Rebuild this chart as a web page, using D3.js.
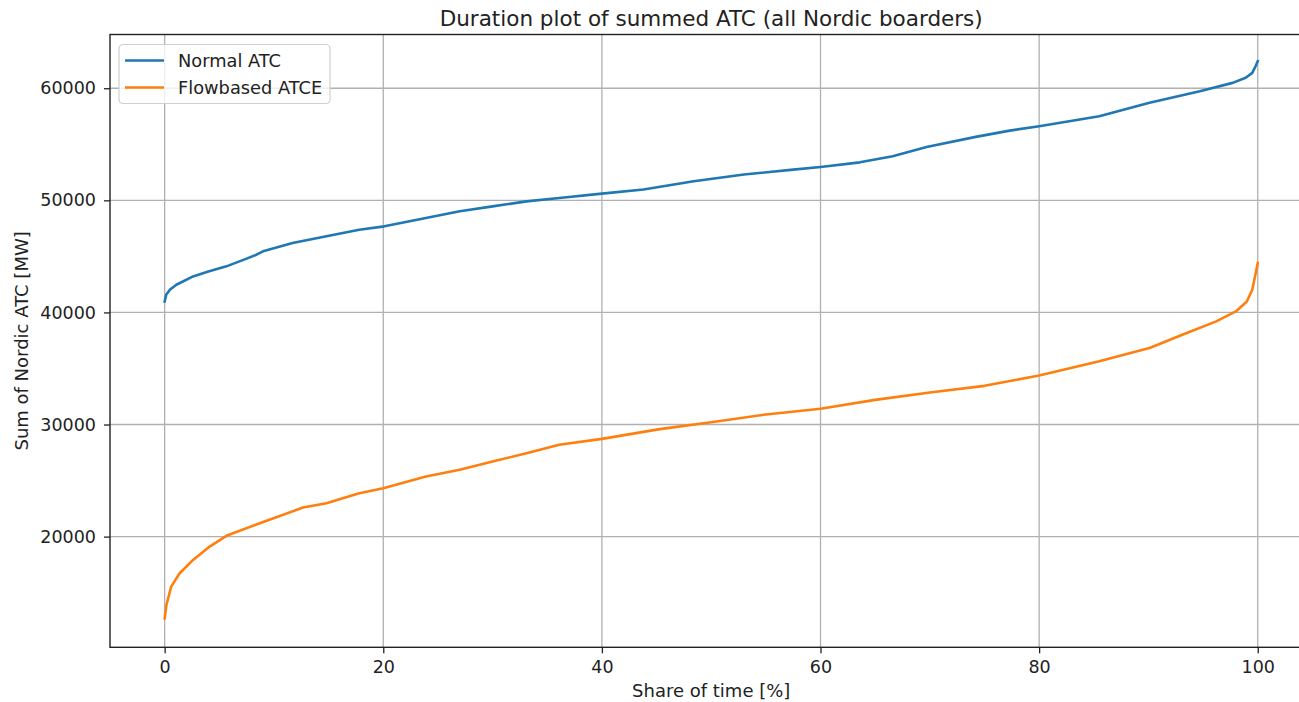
<!DOCTYPE html>
<html>
<head>
<meta charset="utf-8">
<script src="https://cdn.jsdelivr.net/npm/d3@7"></script>
<style>
  body { margin: 0; background: #fff; }
  svg { display: block; font-family: "DejaVu Sans", sans-serif; }
</style>
</head>
<body>
<div id="app"></div>
<script>
const normalShare = [0, 0.15, 0.5, 1.07, 2.6, 4, 5.65, 7.5, 8.4, 9, 11.7, 14.8, 17.8, 20.1, 23.9, 27, 30, 33.1, 36.1, 40, 43.8, 48.4, 53, 57.5, 60, 63.6, 66.6, 69.7, 74.2, 77.3, 80, 85.5, 90.1, 94.7, 97.7, 98.9, 99.5, 99.8, 100]
const normalATC = [40980, 41600, 42050, 42470, 43210, 43650, 44110, 44800, 45150, 45450, 46190, 46790, 47380, 47680, 48430, 49020, 49460, 49910, 50210, 50600, 50960, 51700, 52300, 52740, 52980, 53390, 53930, 54760, 55660, 56220, 56610, 57500, 58700, 59730, 60480, 60930, 61370, 61960, 62410]

const flowShare = [0, 0.16, 0.6, 1.37, 2.6, 4.12, 5.65, 8.7, 12.66, 14.8, 17.8, 20, 23.9, 27, 30, 33.1, 36.1, 40, 45.3, 50, 55, 60, 65, 70, 75, 80, 85.5, 90.1, 93.1, 96.2, 98, 99, 99.5, 99.75, 100]
const flowATCE = [12710, 13900, 15540, 16730, 17920, 19110, 20070, 21200, 22590, 22980, 23870, 24320, 25360, 25960, 26700, 27440, 28190, 28720, 29590, 30200, 30900, 31400, 32200, 32860, 33450, 34380, 35650, 36820, 38010, 39200, 40090, 40980, 42030, 43210, 44410]

const xTicks = [0, 20, 40, 60, 80, 100]
const yTicks = [20000, 30000, 40000, 50000, 60000]
const seriesNames = ['Normal ATC', 'Flowbased ATCE']

const W = 1299, H = 702
const mLeft = 110, mTop = 34.5, mRight = 1312.4, mBottom = 647.3

const svg = d3.select('#app').append('svg').attr('width', W).attr('height', H)

const x = d3.scaleLinear().domain([-5, 105]).range([mLeft, mRight])
const y = d3.scaleLinear().domain([10125, 64795]).range([mBottom, mTop])
const color = d3.scaleOrdinal().domain(seriesNames).range(['#1f77b4', '#ff7f0e'])

// grid
svg.append('g').selectAll('line.gx').data(xTicks).enter().append('line')
  .attr('x1', d => x(d)).attr('x2', d => x(d)).attr('y1', mTop).attr('y2', mBottom)
  .attr('stroke', '#b0b0b0').attr('stroke-width', 1.3)
svg.append('g').selectAll('line.gy').data(yTicks).enter().append('line')
  .attr('y1', d => y(d)).attr('y2', d => y(d)).attr('x1', mLeft).attr('x2', mRight)
  .attr('stroke', '#b0b0b0').attr('stroke-width', 1.3)

// lines
const series = [
  {name: seriesNames[0], pts: normalShare.map((s, i) => [s, normalATC[i]])},
  {name: seriesNames[1], pts: flowShare.map((s, i) => [s, flowATCE[i]])}
]
const line = d3.line().x(d => x(d[0])).y(d => y(d[1]))
svg.append('g').selectAll('path.series').data(series).enter().append('path')
  .attr('class', 'series')
  .attr('d', d => line(d.pts))
  .attr('fill', 'none')
  .attr('stroke', d => color(d.name))
  .attr('stroke-width', 2.6)
  .attr('stroke-linejoin', 'round')
  .attr('stroke-linecap', 'square')

// axes
const xAxis = d3.axisBottom(x).tickValues(xTicks).tickSize(6).tickPadding(7).tickFormat(d3.format('d'))
const yAxis = d3.axisLeft(y).tickValues(yTicks).tickSize(6).tickPadding(8).tickFormat(d3.format('d'))
const gx = svg.append('g').attr('transform', `translate(0,${mBottom})`).call(xAxis)
const gy = svg.append('g').attr('transform', `translate(${mLeft},0)`).call(yAxis)
for (const g of [gx, gy]) {
  g.select('.domain').remove()
  g.selectAll('line').attr('stroke', '#222').attr('stroke-width', 1.3)
  g.selectAll('text').attr('fill', '#222').style('font-size', '17.5px').style('font-family', '"DejaVu Sans", sans-serif')
}

// frame (right edge is outside the picture)
svg.append('rect').attr('x', mLeft).attr('y', mTop).attr('width', mRight - mLeft).attr('height', mBottom - mTop)
  .attr('fill', 'none').attr('stroke', '#222').attr('stroke-width', 1.4)

// titles
svg.append('text').attr('x', (mLeft + mRight) / 2).attr('y', 26).attr('text-anchor', 'middle')
  .style('font-size', '21.5px').attr('fill', '#222').text('Duration plot of summed ATC (all Nordic boarders)')
svg.append('text').attr('x', (mLeft + mRight) / 2).attr('y', 697).attr('text-anchor', 'middle')
  .style('font-size', '18px').attr('fill', '#222').text('Share of time [%]')
svg.append('text').attr('transform', `translate(28,${(mTop + mBottom) / 2}) rotate(-90)`).attr('text-anchor', 'middle')
  .style('font-size', '18px').attr('fill', '#222').text('Sum of Nordic ATC [MW]')

// legend
const lg = svg.append('g').attr('transform', 'translate(119,44.5)')
lg.append('rect').attr('width', 211).attr('height', 59).attr('rx', 4)
  .attr('fill', 'white').attr('fill-opacity', 0.8).attr('stroke', '#d0d0d0').attr('stroke-width', 1.2)
const item = lg.selectAll('g.item').data(seriesNames).enter().append('g')
  .attr('class', 'item').attr('transform', (d, i) => `translate(0,${16 + i * 27})`)
item.append('line').attr('x1', 6).attr('x2', 45).attr('stroke', d => color(d)).attr('stroke-width', 2.6)
item.append('text').attr('x', 59).attr('dy', '0.35em').style('font-size', '17.8px').attr('fill', '#222').text(d => d)
</script>
</body>
</html>
